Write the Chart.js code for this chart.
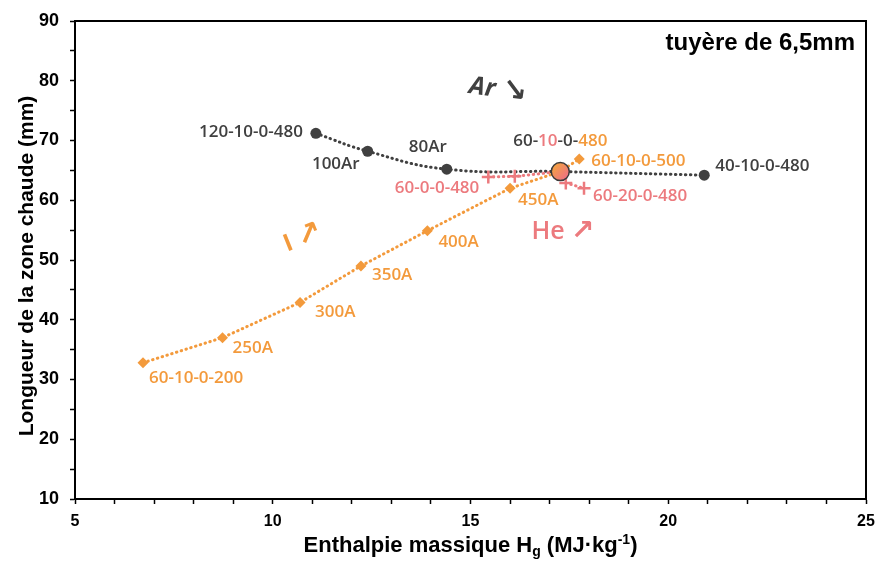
<!DOCTYPE html>
<html>
<head>
<meta charset="utf-8">
<script src="https://cdn.jsdelivr.net/npm/chart.js@4.4.1/dist/chart.umd.min.js"></script>
<style>
  html, body { margin: 0; padding: 0; background: #fff; }
  #zoneChart { display: block; }
</style>
</head>
<body>
<canvas id="zoneChart" width="877" height="562"></canvas>
<script>
// point commun aux trois séries (60-10-0-480)
const refEnthalpy = 17.27;
const refLength = 64.8;

// série argon
const arEnthalpy = [11.09, 12.40, 14.40, refEnthalpy, 20.91];
const arLength = [71.2, 68.2, 65.2, refLength, 64.2];
const arLabels = ['120-10-0-480', '100Ar', '80Ar', '', '40-10-0-480'];

// série hélium
const heEnthalpy = [15.45, 16.12, refEnthalpy, 17.41, 17.87];
const heLength = [63.9, 64.0, refLength, 62.9, 62.0];
const heLabels = ['60-0-0-480', '', '', '', '60-20-0-480'];

// série intensité
const iEnthalpy = [6.72, 8.73, 10.69, 12.23, 13.91, 16.00, refEnthalpy, 17.75];
const iLength = [32.8, 37.0, 42.9, 49.0, 54.9, 62.0, refLength, 66.9];
const iLabels = ['60-10-0-200', '250A', '300A', '350A', '400A', '450A', '', '60-10-0-500'];

const xTicks = [5, 10, 15, 20, 25];
const yTicks = [10, 20, 30, 40, 50, 60, 70, 80, 90];

const AR = '#404040';
const HE = '#EC7A7E';
const CUR = '#F39A3C';

const toPoints = (xs, ys) => xs.map((x, i) => ({ x: x, y: ys[i] }));
const refIndex = (xs) => xs.indexOf(refEnthalpy);

// décalages des étiquettes par rapport aux points (px)
const labelOffsets = {
    ar: [[-13, -1, 'right'], [-8, 13, 'right'], [0, -22, 'right'], null, [11, -9, 'left']],
    he: [[-9, 11, 'right'], null, null, null, [9, 8, 'left']],
    cur: [[6, 15, 'left'], [10, 10, 'left'], [15, 10, 'left'], [11, 9, 'left'], [11, 11, 'left'], [8, 12, 'left'], null, [12, 2, 'left']]
};

const labelFont = '600 17px "Open Sans"';
const arrowFont = (size) => 'bold ' + size + 'px "DejaVu Sans"';

// texte suivi d'une flèche plus grande
function textWithArrow(ctx, text, font, arrow, size, color) {
    ctx.font = font;
    const tw = ctx.measureText(text).width;
    ctx.font = arrowFont(size);
    const aw = ctx.measureText(arrow).width;
    let x = -(tw + aw) / 2;
    ctx.fillStyle = color;
    ctx.textAlign = 'left';
    ctx.font = font;
    ctx.fillText(text, x, 0);
    ctx.font = arrowFont(size);
    ctx.fillText(arrow, x + tw, 0);
}

const decorPlugin = {
    id: 'decor',
    afterDatasetsDraw(chart) {
        const ctx = chart.ctx;
        const area = chart.chartArea;
        ctx.save();

        // cadre complet
        ctx.strokeStyle = '#000';
        ctx.lineWidth = 2;
        ctx.strokeRect(area.left, area.top, area.right - area.left, area.bottom - area.top);

        // étiquettes des points
        const groups = [
            { idx: 0, labels: arLabels, offs: labelOffsets.ar, color: AR },
            { idx: 1, labels: heLabels, offs: labelOffsets.he, color: HE },
            { idx: 2, labels: iLabels, offs: labelOffsets.cur, color: CUR }
        ];
        ctx.font = labelFont;
        ctx.textBaseline = 'middle';
        groups.forEach(g => {
            const meta = chart.getDatasetMeta(g.idx);
            g.labels.forEach((txt, j) => {
                const o = g.offs[j];
                if (!txt || !o) return;
                const pt = meta.data[j];
                ctx.fillStyle = g.color;
                ctx.textAlign = o[2];
                ctx.fillText(txt, pt.x + o[0], pt.y + o[1]);
            });
        });

        // étiquette multicolore du point commun
        const c = chart.getDatasetMeta(3).data[0];
        const parts = [['60-', AR], ['10', HE], ['-0-', AR], ['480', CUR]];
        const total = parts.reduce((s, p) => s + ctx.measureText(p[0]).width, 0);
        let x = c.x - total / 2;
        ctx.textAlign = 'left';
        parts.forEach(p => {
            ctx.fillStyle = p[1];
            ctx.fillText(p[0], x, c.y - 30);
            x += ctx.measureText(p[0]).width;
        });

        // annotations des tendances
        ctx.save();
        ctx.translate(498, 90);
        ctx.rotate(8 * Math.PI / 180);
        textWithArrow(ctx, 'Ar ', 'italic 700 25px "Open Sans"', '\u2198', 30, AR);
        ctx.restore();

        ctx.save();
        ctx.translate(563, 232);
        textWithArrow(ctx, 'He ', '600 25px "Open Sans"', '\u2197', 28, HE);
        ctx.restore();

        ctx.save();
        ctx.translate(303, 238);
        ctx.rotate(-22 * Math.PI / 180);
        textWithArrow(ctx, 'I ', '700 24px "Open Sans"', '\u2197', 30, CUR);
        ctx.restore();

        // titre de la tuyère
        ctx.fillStyle = '#000';
        ctx.textAlign = 'right';
        ctx.textBaseline = 'alphabetic';
        ctx.font = 'bold 24px "Liberation Sans"';
        ctx.fillText('tuyère de 6,5mm', 855, 50);

        // titre de l'axe Y
        ctx.save();
        ctx.translate(33, (area.top + area.bottom) / 2 + 6);
        ctx.rotate(-Math.PI / 2);
        ctx.textAlign = 'center';
        ctx.font = 'bold 21px "Liberation Sans"';
        ctx.fillText('Longueur de la zone chaude (mm)', 0, 0);
        ctx.restore();

        // titre de l'axe X avec indice et exposant
        const big = 'bold 22px "Liberation Sans"';
        const small = 'bold 14px "Liberation Sans"';
        const pieces = [
            ['Enthalpie massique H', big, 0],
            ['g', small, 4],
            [' (MJ\u00b7kg', big, 0],
            ['-1', small, -8],
            [')', big, 0]
        ];
        let w = 0;
        pieces.forEach(p => { ctx.font = p[1]; w += ctx.measureText(p[0]).width; });
        let tx = (area.left + area.right) / 2 - w / 2;
        ctx.textAlign = 'left';
        pieces.forEach(p => {
            ctx.font = p[1];
            ctx.fillText(p[0], tx, 552 + p[2]);
            tx += ctx.measureText(p[0]).width;
        });

        ctx.restore();
    }
};

const dotted = {
    showLine: true,
    borderWidth: 3,
    borderDash: [0.5, 4.5],
    borderCapStyle: 'round'
};

new Chart(document.getElementById('zoneChart'), {
    type: 'scatter',
    data: {
        datasets: [
            Object.assign({
                label: 'Ar',
                data: toPoints(arEnthalpy, arLength),
                borderColor: AR,
                backgroundColor: AR,
                pointStyle: 'circle',
                pointRadius: (c) => c.dataIndex === refIndex(arEnthalpy) ? 0 : 5.5,
                pointBorderWidth: 0,
                tension: 0.45,
                order: 3
            }, dotted),
            Object.assign({
                label: 'He',
                data: toPoints(heEnthalpy, heLength),
                borderColor: HE,
                backgroundColor: HE,
                pointStyle: 'cross',
                pointRadius: (c) => c.dataIndex === refIndex(heEnthalpy) ? 0 : 6.5,
                pointBorderWidth: 2.5,
                pointBorderColor: HE,
                tension: 0,
                order: 2
            }, dotted),
            Object.assign({
                label: 'I',
                data: toPoints(iEnthalpy, iLength),
                borderColor: CUR,
                backgroundColor: CUR,
                pointStyle: 'rectRot',
                pointRadius: (c) => c.dataIndex === refIndex(iEnthalpy) ? 0 : 5.5,
                pointBorderWidth: 0,
                tension: 0,
                order: 1
            }, dotted),
            {
                label: '60-10-0-480',
                data: [{ x: refEnthalpy, y: refLength }],
                pointStyle: 'circle',
                pointRadius: 9,
                pointBorderWidth: 1.5,
                pointBorderColor: '#3a3a3a',
                backgroundColor: (c) => {
                    const chart = c.chart;
                    if (!chart.chartArea || !chart.scales.x) return CUR;
                    const px = chart.scales.x.getPixelForValue(refEnthalpy);
                    const py = chart.scales.y.getPixelForValue(refLength);
                    const g = chart.ctx.createLinearGradient(px - 7, py - 7, px + 7, py + 7);
                    g.addColorStop(0, '#F4A43E');
                    g.addColorStop(1, '#EE6F86');
                    return g;
                },
                order: 0
            }
        ]
    },
    options: {
        responsive: false,
        animation: false,
        events: [],
        devicePixelRatio: 1,
        layout: { padding: { top: 21, right: 11, left: 0, bottom: 0 } },
        plugins: {
            legend: { display: false },
            tooltip: { enabled: false }
        },
        scales: {
            x: {
                type: 'linear',
                min: xTicks[0],
                max: xTicks[xTicks.length - 1],
                afterFit: (s) => {
                    s.height = 63;
                    s.paddingLeft = 0;
                    s.paddingRight = 0;
                },
                ticks: {
                    stepSize: 1,
                    autoSkip: false,
                    maxRotation: 0,
                    padding: 8,
                    color: '#000',
                    font: { family: 'Liberation Sans', weight: 'bold', size: 16 },
                    callback: (v) => xTicks.includes(v) ? String(v) : ''
                },
                grid: { drawOnChartArea: false, tickLength: 5, color: '#000', tickWidth: 1.5 },
                border: { color: '#000', width: 2 }
            },
            y: {
                type: 'linear',
                min: yTicks[0],
                max: yTicks[yTicks.length - 1],
                afterFit: (s) => {
                    s.width = 75;
                    s.paddingTop = 0;
                    s.paddingBottom = 0;
                },
                ticks: {
                    stepSize: 5,
                    autoSkip: false,
                    padding: 11,
                    color: '#000',
                    font: { family: 'Liberation Sans', weight: 'bold', size: 18 },
                    callback: (v) => yTicks.includes(v) ? String(v) : ''
                },
                grid: { drawOnChartArea: false, tickLength: 5, color: '#000', tickWidth: 1.5 },
                border: { color: '#000', width: 2 }
            }
        }
    },
    plugins: [decorPlugin]
});
</script>
</body>
</html>
